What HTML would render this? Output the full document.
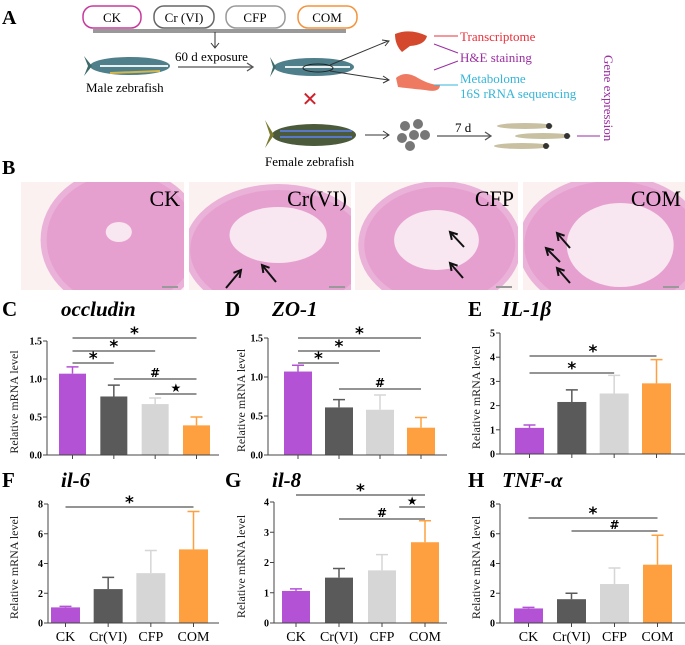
<!DOCTYPE html>
<html><head><meta charset="utf-8">
<style>
html,body{margin:0;padding:0;background:#fff;}
svg{display:block;font-family:"Liberation Serif",serif;}
</style></head>
<body>
<svg id="fig" width="685" height="645" viewBox="0 0 685 645" xmlns="http://www.w3.org/2000/svg">
<defs>
<clipPath id="cl0"><rect x="21" y="182" width="163" height="108"/></clipPath>
<clipPath id="cl1"><rect x="189" y="182" width="162" height="108"/></clipPath>
<clipPath id="cl2"><rect x="355" y="182" width="163" height="108"/></clipPath>
<clipPath id="cl3"><rect x="523" y="182" width="162" height="108"/></clipPath>
</defs>
<!-- Panel A -->
<g>
<text x="2" y="24" font-size="20" font-weight="bold">A</text>
<rect x="83" y="6" width="58" height="22" rx="10" fill="#fff" stroke="#c8389c" stroke-width="1.5"/>
<text x="112" y="22" font-size="13" text-anchor="middle">CK</text>
<rect x="154" y="6" width="60" height="22" rx="10" fill="#fff" stroke="#666" stroke-width="1.5"/>
<text x="184" y="22" font-size="13" text-anchor="middle">Cr (VI)</text>
<rect x="226" y="6" width="59" height="22" rx="10" fill="#fff" stroke="#999" stroke-width="1.5"/>
<text x="255" y="22" font-size="13" text-anchor="middle">CFP</text>
<rect x="298" y="6" width="59" height="22" rx="10" fill="#fff" stroke="#f5923a" stroke-width="1.5"/>
<text x="327" y="22" font-size="13" text-anchor="middle">COM</text>
<line x1="93" y1="30" x2="346" y2="30" stroke="#333" stroke-width="1"/>
<line x1="93" y1="32" x2="346" y2="32" stroke="#333" stroke-width="1"/>
<line x1="215" y1="32" x2="215" y2="47" stroke="#333"/>
<path d="M211 43 L215 48 L219 43" fill="none" stroke="#333"/>
<g>
<ellipse cx="130" cy="66" rx="40" ry="9" fill="#4e7f8a"/>
<path d="M92 66 L84 56 L88 66 L84 76 Z" fill="#3d6a6a"/>
<path d="M100 66 L168 66" stroke="#e8f0f0" stroke-width="2"/>
<path d="M110 73 L160 71" stroke="#d6b84a" stroke-width="2"/>
</g>
<text x="86" y="92" font-size="13">Male zebrafish</text>
<text x="175" y="61" font-size="13">60 d exposure</text>
<line x1="178" y1="67" x2="252" y2="67" stroke="#555" stroke-width="1.3"/>
<path d="M247 63 L253 67 L247 71" fill="none" stroke="#555" stroke-width="1.3"/>
<g>
<ellipse cx="314" cy="67" rx="40" ry="9" fill="#4e7f8a"/>
<path d="M276 67 L270 57 L273 67 L270 77 Z" fill="#3d6a6a"/>
<path d="M285 67 L350 67" stroke="#e8f0f0" stroke-width="2"/>
<ellipse cx="318" cy="68" rx="15" ry="4" fill="none" stroke="#222"/>
</g>
<line x1="330" y1="65" x2="388" y2="41" stroke="#333"/>
<path d="M382 40 L389 41 L385 46" fill="none" stroke="#333"/>
<line x1="330" y1="71" x2="388" y2="80" stroke="#333"/>
<path d="M383 76 L389 80 L383 83" fill="none" stroke="#333"/>
<path d="M395 34 Q410 28 427 36 Q425 45 410 46 L402 52 Q395 45 395 34 Z" fill="#d4492e"/>
<path d="M396 78 Q405 70 418 78 Q430 85 440 85 Q440 93 425 90 Q405 88 398 87 Z" fill="#ee7a62"/>
<line x1="434" y1="36" x2="458" y2="36" stroke="#e8303a"/>
<text x="460" y="41" font-size="13" fill="#e8303a">Transcriptome</text>
<line x1="434" y1="44" x2="458" y2="53" stroke="#9b2ea0"/>
<line x1="434" y1="70" x2="458" y2="61" stroke="#9b2ea0"/>
<text x="460" y="62" font-size="13" fill="#9b2ea0">H&amp;E staining</text>
<line x1="434" y1="85" x2="458" y2="85" stroke="#35b5d8"/>
<text x="460" y="83" font-size="13" fill="#35b5d8">Metabolome</text>
<text x="460" y="98" font-size="13" fill="#35b5d8">16S rRNA sequencing</text>
<text x="310" y="106" font-size="20" fill="#d0202a" text-anchor="middle" font-family="DejaVu Sans,sans-serif" font-weight="bold">✕</text>
<g>
<ellipse cx="314" cy="135" rx="42" ry="11" fill="#4b5a3a"/>
<path d="M274 135 L265 120 L270 135 L265 148 Z" fill="#7a7a30"/>
<path d="M280 131 L352 131 M280 137 L352 137" stroke="#5a78c8" stroke-width="2"/>
</g>
<text x="265" y="166" font-size="13">Female zebrafish</text>
<line x1="365" y1="135" x2="388" y2="135" stroke="#333"/>
<path d="M383 131 L389 135 L383 139" fill="none" stroke="#333"/>
<g fill="#777">
<circle cx="405" cy="126" r="5"/><circle cx="418" cy="124" r="5"/><circle cx="402" cy="138" r="5"/><circle cx="414" cy="135" r="5"/><circle cx="425" cy="135" r="5"/><circle cx="410" cy="146" r="5"/>
</g>
<text x="455" y="132" font-size="13">7 d</text>
<line x1="437" y1="136" x2="490" y2="136" stroke="#555" stroke-width="1.3"/>
<path d="M485 132 L491 136 L485 140" fill="none" stroke="#555" stroke-width="1.3"/>
<g>
<ellipse cx="525" cy="126" rx="28" ry="3" fill="#c8c0a0"/><circle cx="549" cy="126" r="3" fill="#333"/>
<ellipse cx="543" cy="136" rx="28" ry="3" fill="#c8c0a0"/><circle cx="567" cy="136" r="3" fill="#333"/>
<ellipse cx="522" cy="146" rx="28" ry="3" fill="#c8c0a0"/><circle cx="546" cy="146" r="3" fill="#333"/>
</g>
<line x1="577" y1="136" x2="600" y2="136" stroke="#9b2ea0"/>
<text x="604" y="55" font-size="13" fill="#9b2ea0" transform="rotate(90 604 55)">Gene expression</text>
</g>
<!-- Panel B -->
<g>
<text x="2" y="174" font-size="20" font-weight="bold">B</text>
<g id="histo"></g>
</g>
<g id="charts"></g>
</svg>
<script>
// ---- Chart data ----
const categories = ["CK", "Cr(VI)", "CFP", "COM"];
const occludinValues = [1.07, 0.77, 0.67, 0.39];
const occludinErrors = [0.09, 0.15, 0.08, 0.11];
const zo1Values = [1.07, 0.61, 0.58, 0.35];
const zo1Errors = [0.08, 0.10, 0.19, 0.13];
const il1bValues = [1.08, 2.15, 2.5, 2.92];
const il1bErrors = [0.12, 0.50, 0.75, 0.98];
const il6Values = [1.05, 2.28, 3.35, 4.95];
const il6Errors = [0.07, 0.79, 1.52, 2.55];
const il8Values = [1.06, 1.5, 1.74, 2.67];
const il8Errors = [0.07, 0.30, 0.52, 0.71];
const tnfValues = [0.98, 1.6, 2.62, 3.92];
const tnfErrors = [0.07, 0.40, 1.08, 1.98];
const ticksOccludin = ["0.0", "0.5", "1.0", "1.5"];
const ticksZo1 = ["0.0", "0.5", "1.0", "1.5"];
const ticksIl1b = ["0", "1", "2", "3", "4", "5"];
const ticksIl6 = ["0", "2", "4", "6", "8"];
const ticksIl8 = ["0", "1", "2", "3", "4"];
const ticksTnf = ["0", "2", "4", "6", "8"];

const colors = ["#b452d6", "#5a5a5a", "#d6d6d6", "#ffa040"];
const NS = "http://www.w3.org/2000/svg";
function mk(parent, tag, attrs, text) {
  const e = document.createElementNS(NS, tag);
  for (const k in attrs) e.setAttribute(k, attrs[k]);
  if (text !== undefined) e.textContent = text;
  parent.appendChild(e);
  return e;
}

// histology panels
const histo = document.getElementById("histo");
const hp = [[21,184,"CK"],[189,351,"Cr(VI)"],[355,518,"CFP"],[523,685,"COM"]];
const tissue = [
  {cx:0.62, cy:240, rx:0.5, ry:72, lx:0.6, ly:232, lrx:0.08, lry:10},
  {cx:0.55, cy:250, rx:0.58, ry:66, lx:0.55, ly:235, lrx:0.3, lry:28},
  {cx:0.52, cy:245, rx:0.5, ry:64, lx:0.5, ly:240, lrx:0.26, lry:30},
  {cx:0.55, cy:245, rx:0.58, ry:70, lx:0.6, ly:245, lrx:0.33, lry:42}
];
hp.forEach((p, i) => {
  const g = mk(histo, "g", {"clip-path": `url(#cl${i})`});
  
  
  const w = p[1] - p[0], t = tissue[i];
  mk(g, "rect", {x: p[0], y: 182, width: w, height: 108, fill: "#fbf1f0"});
  mk(g, "ellipse", {cx: p[0] + w * t.cx, cy: t.cy, rx: w * t.rx, ry: t.ry, fill: "#eab2d8"});
  mk(g, "ellipse", {cx: p[0] + w * t.cx, cy: t.cy, rx: w * t.rx - 6, ry: t.ry - 6, fill: "#e6a0d0"});
  mk(g, "ellipse", {cx: p[0] + w * t.lx, cy: t.ly, rx: w * t.lrx, ry: t.lry, fill: "#f8e6f0"});
  mk(g, "rect", {x: p[1]-22, y: 286, width: 16, height: 2, fill: "#999"});
  const tx = mk(g, "text", {x: p[1] - 4, y: 206, "font-size": 22, "text-anchor": "end"}, p[2]);
  
  
});
const arrows = [[241,270,226,288],[262,265,276,282],[450,263,463,278],[450,232,464,247],[557,233,570,248],[546,248,560,262],[557,268,570,283]];
arrows.forEach(a => {
  const g = mk(histo, "g", {});
  
  
  mk(g, "line", {x1: a[0], y1: a[1], x2: a[2], y2: a[3], stroke: "#111", "stroke-width": 2});
  const dx = a[2]-a[0], dy = a[3]-a[1], L = Math.hypot(dx,dy), ux = dx/L, uy = dy/L;
  mk(g, "path", {d: `M${a[0]+ux*7-uy*4} ${a[1]+uy*7+ux*4} L${a[0]} ${a[1]} L${a[0]+ux*7+uy*4} ${a[1]+uy*7-ux*4}`, fill: "none", stroke: "#111", "stroke-width": 2});
});

// chart panels
const panels = [
  {id:"c", title:"occludin", vals:occludinValues, errs:occludinErrors, ticks:ticksOccludin, max:1.5,
   ax:47, xend:219, top:341, bot:455, bx:[59,101,142,183], bw:27, lx:2, tx:61, ty:316, ytx:14,
   sig:[[0,3,338,"*"],[0,2,351,"*"],[0,1,363,"*"],[1,3,379,"#"],[2,3,394,"★"]], xl:false},
  {id:"d", title:"ZO-1", vals:zo1Values, errs:zo1Errors, ticks:ticksZo1, max:1.5,
   ax:268, xend:447, top:338, bot:455, bx:[284,325,367,407], bw:28, lx:225, tx:272, ty:316, ytx:241,
   sig:[[0,3,338,"*"],[0,2,351,"*"],[0,1,363,"*"],[1,3,389,"#"]], xl:false},
  {id:"e", title:"IL-1β", vals:il1bValues, errs:il1bErrors, ticks:ticksIl1b, max:5,
   ax:500, xend:686, top:333, bot:454, bx:[515,558,600,642], bw:29, lx:468, tx:502, ty:316, ytx:476,
   sig:[[0,3,356,"*"],[0,2,373,"*"]], xl:false},
  {id:"f", title:"il-6", vals:il6Values, errs:il6Errors, ticks:ticksIl6, max:8,
   ax:48, xend:219, top:504, bot:623, bx:[51,94,136,179], bw:29, lx:2, tx:61, ty:487, ytx:14,
   sig:[[0,3,507,"*"]], xl:true},
  {id:"g", title:"il-8", vals:il8Values, errs:il8Errors, ticks:ticksIl8, max:4,
   ax:274, xend:447, top:502, bot:623, bx:[282,325,368,411], bw:28, lx:225, tx:272, ty:487, ytx:241,
   sig:[[0,3,495,"*"],[2.4,3,507,"★"],[1,3,519,"#"]], xl:true},
  {id:"h", title:"TNF-α", vals:tnfValues, errs:tnfErrors, ticks:ticksTnf, max:8,
   ax:500, xend:686, top:504, bot:623, bx:[514,557,600,643], bw:29, lx:468, tx:502, ty:487, ytx:476,
   sig:[[0,3,518,"*"],[1,3,531,"#"]], xl:true}
];
const charts = document.getElementById("charts");
panels.forEach(p => {
  const g = mk(charts, "g", {});
  
  
  const y = v => p.bot - v / p.max * (p.bot - p.top);
  const cx = i => p.bx[0] + p.bw/2 + i * (p.bx[3] - p.bx[0]) / 3;
  const pl = mk(g, "text", {x: p.lx, y: p.ty, "font-size": 21, "font-weight": "bold"}, p.id.toUpperCase());
  
  
  const tt = mk(g, "text", {x: p.tx, y: p.ty, "font-size": 21, "font-weight": "bold", "font-style": "italic"}, p.title);
  
  
  const yt = mk(g, "text", {x: p.ytx, y: (p.top + p.bot)/2, "font-size": 12, "text-anchor": "middle", transform: `rotate(-90 ${p.ytx + 4} ${(p.top + p.bot)/2})`, fill: "#222"}, "Relative mRNA level");
  
  
  p.vals.forEach((v, i) => {
    const x0 = p.bx[0] + i * (p.bx[3] - p.bx[0]) / 3;
    const top = y(v + p.errs[i]);
    const eb = mk(g, "path", {d: `M${cx(i)} ${y(v)} L${cx(i)} ${top} M${cx(i)-6} ${top} L${cx(i)+6} ${top}`, stroke: colors[i], "stroke-width": 1.5, fill: "none"});
    
    
    const r = mk(g, "rect", {x: x0, y: y(v), width: p.bw, height: p.bot - y(v), fill: colors[i]});
    
    
  });
  const axg = mk(g, "g", {stroke: "#444", "stroke-width": 1});
  
  
  mk(axg, "line", {x1: p.ax, y1: p.top, x2: p.ax, y2: p.bot});
  mk(axg, "line", {x1: p.ax, y1: p.bot, x2: p.xend, y2: p.bot});
  p.ticks.forEach((t, k) => {
    const v = p.max * k / (p.ticks.length - 1);
    mk(axg, "line", {x1: p.ax - 4, y1: y(v), x2: p.ax, y2: y(v)});
    const tl = mk(g, "text", {x: p.ax - 5, y: y(v) + 3.5, "font-size": 10, "font-weight": "bold", "text-anchor": "end"}, t);
    
    
  });
  categories.forEach((c, i) => {
    mk(axg, "line", {x1: cx(i), y1: p.bot, x2: cx(i), y2: p.bot + 4});
    if (p.xl) {
      const xl = mk(g, "text", {x: cx(i), y: 641, "font-size": 14, "text-anchor": "middle"}, c);
      
      
    }
  });
  p.sig.forEach(s => {
    const x1 = s[0] === Math.floor(s[0]) ? cx(s[0]) : cx(2) + (s[0]-2) * (cx(3)-cx(2));
    const x2 = cx(s[1]);
    const sl = mk(g, "line", {x1: x1, y1: s[2], x2: x2, y2: s[2], stroke: "#555", "stroke-width": 1.2});
    
    
    const st = mk(g, "text", {x: (x1 + x2)/2, y: s[2] - (s[3] === "*" ? -1 : 2), "font-size": s[3] === "*" ? 17 : 12, "font-weight": "bold", "text-anchor": "middle", "font-family": "DejaVu Sans,sans-serif"}, s[3]);
    
    
  });
});
</script>
</body></html>
